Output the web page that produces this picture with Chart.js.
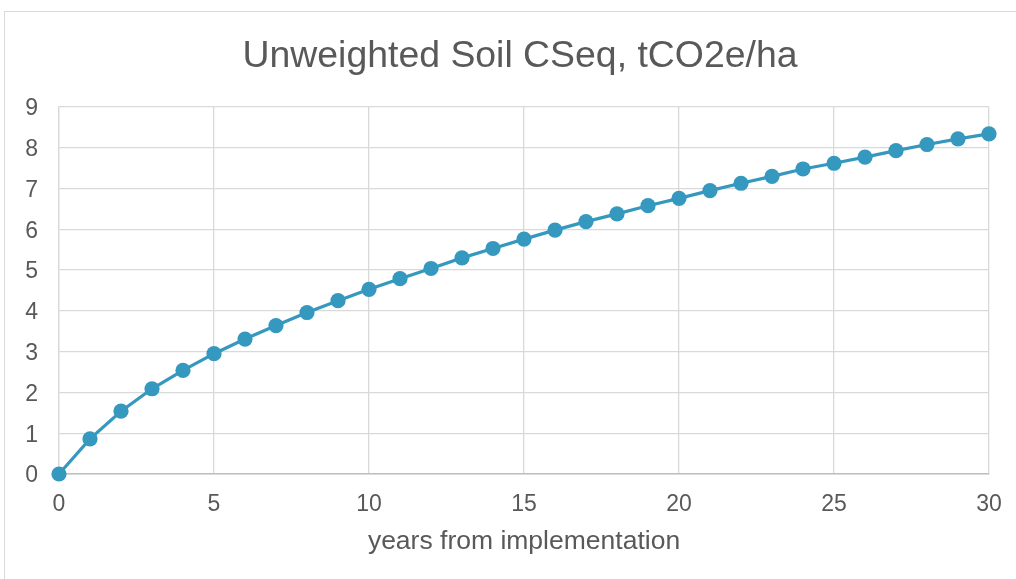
<!DOCTYPE html>
<html>
<head>
<meta charset="utf-8">
<script src="https://cdn.jsdelivr.net/npm/chart.js@4.4.1/dist/chart.umd.min.js"></script>
<style>
  html, body { margin: 0; padding: 0; background: #ffffff; }
  #wrap { position: relative; width: 1016px; height: 579px; overflow: hidden; }
  #frame { position: absolute; left: 4px; top: 11px; width: 1030px; height: 600px; border-left: 1px solid #d9d9d9; border-top: 1px solid #d9d9d9; box-sizing: border-box; }
  canvas { position: absolute; left: 0; top: 0; }
</style>
</head>
<body>
<div id="wrap">
  <div id="frame"></div>
  <canvas id="c" width="1016" height="579"></canvas>
</div>
<script>
const chartTitle = 'Unweighted Soil CSeq, tCO2e/ha';
const xAxisTitle = 'years from implementation';
const years = [0,1,2,3,4,5,6,7,8,9,10,11,12,13,14,15,16,17,18,19,20,21,22,23,24,25,26,27,28,29,30];
const cseq = [0,0.86,1.54,2.09,2.54,2.95,3.31,3.64,3.96,4.25,4.53,4.79,5.04,5.30,5.53,5.76,5.98,6.19,6.38,6.58,6.76,6.95,7.13,7.30,7.48,7.62,7.77,7.93,8.08,8.22,8.34];
const xTicks = [0,5,10,15,20,25,30];
const yTicks = [0,1,2,3,4,5,6,7,8,9];

const FONT = '"Liberation Sans", Arial, sans-serif';
const TXT = '#595959';
const GRID = '#d9d9d9';
const LINE = '#3598bf';

// Title drawn centred on the outer chart frame (which extends past the right edge)
const titlePlugin = {
  id: 'frameTitle',
  afterDraw(chart) {
    const ctx = chart.ctx;
    ctx.save();
    ctx.font = '37.4px ' + FONT;
    ctx.fillStyle = TXT;
    ctx.textAlign = 'center';
    ctx.textBaseline = 'alphabetic';
    ctx.fillText(chartTitle, 520, 67);
    ctx.restore();
  }
};

new Chart(document.getElementById('c'), {
  type: 'line',
  data: {
    datasets: [{
      data: years.map((x, i) => ({ x: x, y: cseq[i] })),
      borderColor: LINE,
      backgroundColor: LINE,
      borderWidth: 3.2,
      pointRadius: 7.6,
      pointBorderWidth: 0,
      pointBackgroundColor: LINE,
      tension: 0,
      fill: false,
      clip: false
    }]
  },
  plugins: [titlePlugin],
  options: {
    responsive: false,
    animation: false,
    events: [],
    layout: { padding: { left: 0, right: 27, top: 107, bottom: 0 } },
    plugins: {
      legend: { display: false },
      tooltip: { enabled: false },
      title: { display: false }
    },
    scales: {
      x: {
        type: 'linear',
        min: 0, max: 30,
        afterBuildTicks: (s) => { s.ticks = xTicks.map(v => ({ value: v })); },
        afterFit: (s) => { s.height = 105; s.paddingRight = 0; s.paddingLeft = 0; },
        grid: { color: GRID, lineWidth: 1.3, drawTicks: false },
        border: { color: '#bfbfbf', width: 1.6 },
        ticks: { color: TXT, font: { family: FONT, size: 23, lineHeight: 1.2 }, padding: 17, maxRotation: 0 },
        title: {
          display: true, text: xAxisTitle, color: TXT,
          font: { family: FONT, size: 26.5, lineHeight: 1.2 },
          padding: { top: 3, bottom: 21 }
        }
      },
      y: {
        type: 'linear',
        min: 0, max: 9,
        afterBuildTicks: (s) => { s.ticks = yTicks.map(v => ({ value: v })); },
        afterFit: (s) => { s.width = 59; },
        grid: { color: GRID, lineWidth: 1.3, drawTicks: false },
        border: { color: GRID, width: 1.3 },
        ticks: { color: TXT, font: { family: FONT, size: 23 }, padding: 21, labelOffset: 2 }
      }
    }
  }
});
</script>
</body>
</html>
